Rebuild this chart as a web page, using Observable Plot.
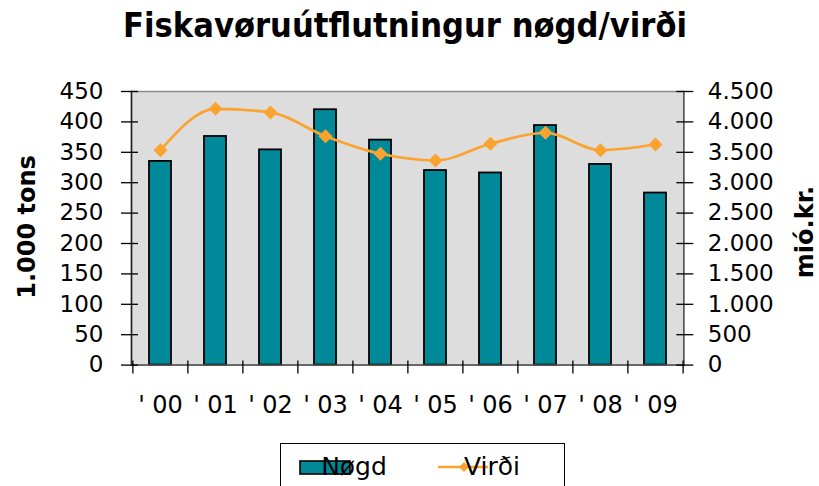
<!DOCTYPE html>
<html>
<head>
<meta charset="utf-8">
<script src="https://cdn.jsdelivr.net/npm/d3@7"></script>
<script src="https://cdn.jsdelivr.net/npm/@observablehq/plot@0.6"></script>
<style>
  html, body { margin: 0; padding: 0; background: #fff; }
  #chart { position: relative; width: 819px; height: 486px; overflow: hidden; }
</style>
</head>
<body>
<div id="chart"></div>
<script>
// ---- data ----
const categories = ["' 00", "' 01", "' 02", "' 03", "' 04", "' 05", "' 06", "' 07", "' 08", "' 09"];
const nogd = [335, 376, 354, 420, 370, 320, 316, 394, 330, 283];           // 1.000 tons
const virdi = [3535, 4215, 4155, 3765, 3475, 3365, 3640, 3821, 3535, 3628]; // mió.kr.
const leftTicks = [0, 50, 100, 150, 200, 250, 300, 350, 400, 450];
const rightRatio = 10; // right axis = left axis * 10
const title = "Fiskavøruútflutningur nøgd/virði";
const leftLabel = "1.000 tons";
const rightLabel = "mió.kr.";
const legendLabels = ["Nøgd", "Virði"];

const teal = "#008a99";
const orange = "#fba22f";
const data = categories.map((c, i) => ({cat: c, nogd: nogd[i], virdi: virdi[i]}));

const W = 819, H = 486;
const mL = 131, mR = 135.7, mT = 91, mB = 121.4;
const padIn = 0.6, padOut = 0.3;
const step = (W - mL - mR) / (categories.length - padIn + 2 * padOut);

const fmt = d3.formatLocale({decimal: ",", thousands: ".", grouping: [3], currency: ["", ""]}).format(",");

const diamond = {
  draw(ctx, size) {
    const h = Math.sqrt(size / Math.PI);
    ctx.moveTo(0, -h); ctx.lineTo(h, 0); ctx.lineTo(0, h); ctx.lineTo(-h, 0); ctx.closePath();
  }
};

const chart = Plot.plot({
  width: W, height: H,
  marginLeft: mL, marginRight: mR, marginTop: mT, marginBottom: mB,
  style: {fontFamily: "DejaVu Sans", fontSize: "23px", color: "#000", background: "#fff", overflow: "visible"},
  x: {type: "band", domain: categories, paddingInner: padIn, paddingOuter: padOut, axis: null},
  y: {domain: [0, 450], axis: null},
  marks: [
    Plot.frame({fill: "#dddddd", stroke: "#8a8a8a", strokeWidth: 1.5}),
    Plot.barY(data, {x: "cat", y: "nogd", fill: teal, stroke: "#000", strokeWidth: 1.8}),
    Plot.line(data, {x: "cat", y: d => d.virdi / rightRatio, stroke: orange, strokeWidth: 2.6, curve: "monotone-x"}),
    Plot.dot(data, {x: "cat", y: d => d.virdi / rightRatio, symbol: diamond, r: 7, fill: orange, stroke: "none"}),
    // axis lines
    Plot.frame({anchor: "left", stroke: "#222", strokeWidth: 1.5}),
    Plot.frame({anchor: "right", stroke: "#555", strokeWidth: 1.5}),
    Plot.frame({anchor: "bottom", stroke: "#555", strokeWidth: 1.5}),
    // left axis ticks (crossing) and labels
    Plot.axisY({anchor: "left", ticks: leftTicks, tickSize: 17, dx: 7, tickFormat: () => "", label: null, strokeWidth: 1.3}),
    Plot.axisY({anchor: "left", ticks: leftTicks, tickSize: 0, tickPadding: 28, tickFormat: d => String(d), label: null, fontSize: 23}),
    // right axis ticks and labels
    Plot.axisY({anchor: "right", ticks: leftTicks, tickSize: 17, dx: -8, tickFormat: () => "", label: null, strokeWidth: 1.3}),
    Plot.axisY({anchor: "right", ticks: leftTicks, tickSize: 0, tickPadding: 24, tickFormat: d => fmt(d * rightRatio), label: null, fontSize: 23}),
    // x boundary ticks and labels
    Plot.axisX({ticks: categories, tickSize: 13, dx: -step / 2, dy: -4, tickFormat: () => "", label: null, strokeWidth: 1.3}),
    Plot.axisX({ticks: [categories[categories.length - 1]], tickSize: 13, dx: step / 2, dy: -4, tickFormat: () => "", label: null, strokeWidth: 1.3}),
    Plot.axisX({tickSize: 0, tickPadding: 31, label: null, fontSize: 24})
  ]
});

document.getElementById("chart").appendChild(chart);

// ---- titles & legend ----
const svg = d3.select(chart);
svg.append("text")
  .attr("x", 405).attr("y", 37)
  .attr("text-anchor", "middle")
  .attr("font-family", "DejaVu Sans").attr("font-weight", "bold").attr("font-size", 33)
  .attr("textLength", 564).attr("lengthAdjust", "spacingAndGlyphs")
  .attr("fill", "#000")
  .text(title);

svg.append("text")
  .attr("transform", "translate(35,227) rotate(-90)")
  .attr("text-anchor", "middle")
  .attr("font-family", "DejaVu Sans").attr("font-weight", "bold").attr("font-size", 24)
  .attr("fill", "#000")
  .text(leftLabel);

svg.append("text")
  .attr("transform", "translate(813,232) rotate(-90)")
  .attr("text-anchor", "middle")
  .attr("font-family", "DejaVu Sans").attr("font-weight", "bold").attr("font-size", 24)
  .attr("fill", "#000")
  .text(rightLabel);

const lg = svg.append("g");
lg.append("rect").attr("x", 280.5).attr("y", 443.5).attr("width", 284).attr("height", 50)
  .attr("fill", "#fff").attr("stroke", "#000").attr("stroke-width", 1);
lg.append("rect").attr("x", 300).attr("y", 461).attr("width", 50).attr("height", 13)
  .attr("fill", teal).attr("stroke", "#000").attr("stroke-width", 1.6);
lg.append("text").attr("x", 354).attr("y", 475)
  .attr("font-family", "DejaVu Sans").attr("font-size", 25).attr("fill", "#000").text(legendLabels[0]);
lg.append("line").attr("x1", 438).attr("x2", 488).attr("y1", 467).attr("y2", 467)
  .attr("stroke", orange).attr("stroke-width", 2.6);
lg.append("path").attr("d", "M464,462L469,467L464,472L459,467Z").attr("fill", orange);
lg.append("text").attr("x", 492).attr("y", 475)
  .attr("font-family", "DejaVu Sans").attr("font-size", 25).attr("fill", "#000").text(legendLabels[1]);
</script>
</body>
</html>
